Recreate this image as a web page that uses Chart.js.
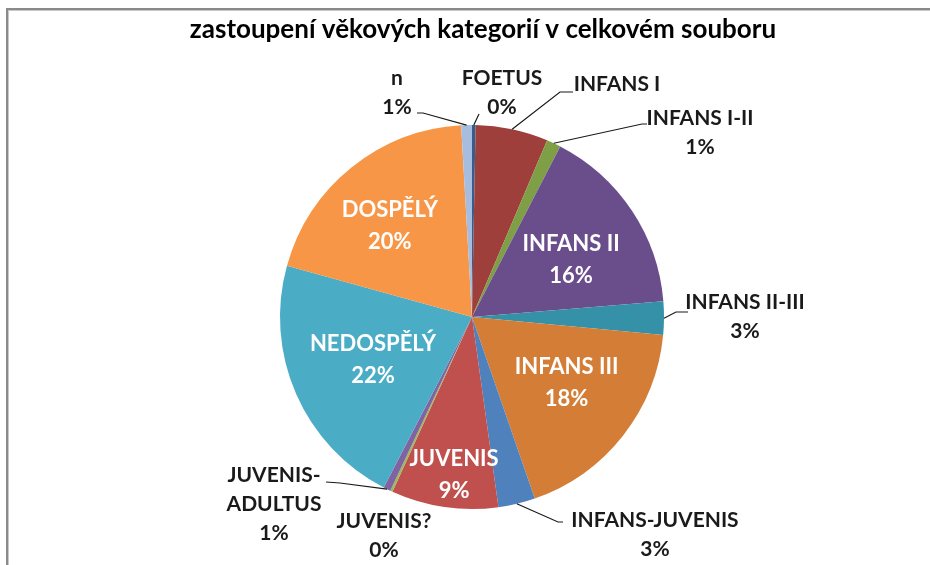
<!DOCTYPE html>
<html>
<head>
<meta charset="utf-8">
<script src="https://cdn.jsdelivr.net/npm/chart.js@4"></script>
<style>
  html, body { margin: 0; padding: 0; background: #fff; }
  #wrap { position: relative; width: 930px; height: 565px; overflow: hidden; }
  #frame { position: absolute; left: 6px; top: 8px; width: 1000px; height: 600px;
           border-top: 2px solid #8a8a8a; border-left: 2px solid #8a8a8a;
           box-shadow: inset 1px 1px 0 #c8c8c8; }
  canvas { position: absolute; left: 0; top: 0; }
</style>
</head>
<body>
<div id="wrap">
  <div id="frame"></div>
  <canvas id="pie" width="930" height="565"></canvas>
</div>
<script>
const title = 'zastoupení věkových kategorií v celkovém souboru';
const categories = ['FOETUS', 'INFANS I', 'INFANS I-II', 'INFANS II', 'INFANS II-III', 'INFANS III',
  'INFANS-JUVENIS', 'JUVENIS', 'JUVENIS?', 'JUVENIS-ADULTUS', 'NEDOSPĚLÝ', 'DOSPĚLÝ', 'n'];
const shares = [0.3, 6.1, 1.2, 16.1, 2.8, 18.2, 3.1, 9.0, 0.2, 0.6, 21.7, 19.8, 0.9];
const colors = ['#385D8A', '#9E3F3C', '#7E9F45', '#694E8B', '#3591A7', '#D47D37',
  '#4F81BD', '#C0504D', '#9BBB59', '#8064A2', '#4BACC6', '#F79646', '#A7BDDF'];

// label placement: inside -> radial factor (+ nudge); outside -> text centre + leader points (label side first)
const labelLayout = [
  { x: 502, y: 78, leader: [[479, 114]] },
  { x: 617, y: 84, noPct: true, leader: [[573, 92], [560, 92]] },
  { x: 700, y: 118, leader: [[647, 124], [642, 124]] },
  { r: 0.62, dx: 0, dy: 9 },
  { x: 745, y: 302, leader: [[688, 312], [676, 312]] },
  { r: 0.6, dx: 4, dy: -5 },
  { x: 655, y: 520, leader: [[563, 522], [558, 522]] },
  { r: 0.83, dx: 5, dy: 0 },
  { x: 384, y: 521 },
  { x: 274, y: 475, wrap: true, leader: [[326, 482], [340, 483]] },
  { r: 0.58, dx: 3, dy: -2 },
  { r: 0.64, dx: -5, dy: 5 }, 
  { x: 397, y: 78, leader: [[417, 113], [423, 113]] }
];

const labelPlugin = {
  id: 'excelLabels',
  afterDraw(chart) {
    const ctx = chart.ctx;
    const meta = chart.getDatasetMeta(0);
    const total = shares.reduce((a, b) => a + b, 0);
    ctx.save();
    ctx.font = 'bold 26px Lato';
    ctx.fillStyle = '#000';
    ctx.textAlign = 'center';
    ctx.textBaseline = 'middle';
    ctx.fillText(title, 483, 30);

    meta.data.forEach((arc, i) => {
      const lay = labelLayout[i];
      const p = arc.getProps(['x', 'y', 'startAngle', 'endAngle', 'outerRadius'], true);
      const mid = (p.startAngle + p.endAngle) / 2;
      let lines = lay.wrap ? categories[i].replace('-', '-\n').split('\n') : [categories[i]];
      if (!lay.noPct) lines.push(Math.round(shares[i] / total * 100) + '%');
      if (lay.r !== undefined) {
        const tx = p.x + Math.cos(mid) * p.outerRadius * lay.r + lay.dx;
        const ty = p.y + Math.sin(mid) * p.outerRadius * lay.r + lay.dy - (lines.length - 1) * 32 / 2;
        ctx.font = 'bold 22px Lato';
        ctx.fillStyle = '#fff';
        lines.forEach((t, k) => ctx.fillText(t, tx, ty + k * 32));
      } else {
        if (lay.leader) {
          ctx.strokeStyle = '#1a1a1a';
          ctx.lineWidth = 1.2;
          ctx.beginPath();
          lay.leader.forEach((pt, k) => k ? ctx.lineTo(pt[0], pt[1]) : ctx.moveTo(pt[0], pt[1]));
          ctx.lineTo(p.x + Math.cos(mid) * p.outerRadius, p.y + Math.sin(mid) * p.outerRadius);
          ctx.stroke();
        }
        ctx.font = 'bold 21px Lato';
        ctx.fillStyle = '#1a1a1a';
        lines.forEach((t, k) => ctx.fillText(t, lay.x, lay.y + k * 29));
      }
    });
    ctx.restore();
  }
};

new Chart(document.getElementById('pie'), {
  type: 'pie',
  data: {
    labels: categories,
    datasets: [{ data: shares, backgroundColor: colors, borderWidth: 0 }]
  },
  options: {
    responsive: false,
    animation: false,
    layout: { padding: { left: 280, right: 266, top: 125, bottom: 56 } },
    plugins: { legend: { display: false }, tooltip: { enabled: false } }
  },
  plugins: [labelPlugin]
});
</script>
</body>
</html>
